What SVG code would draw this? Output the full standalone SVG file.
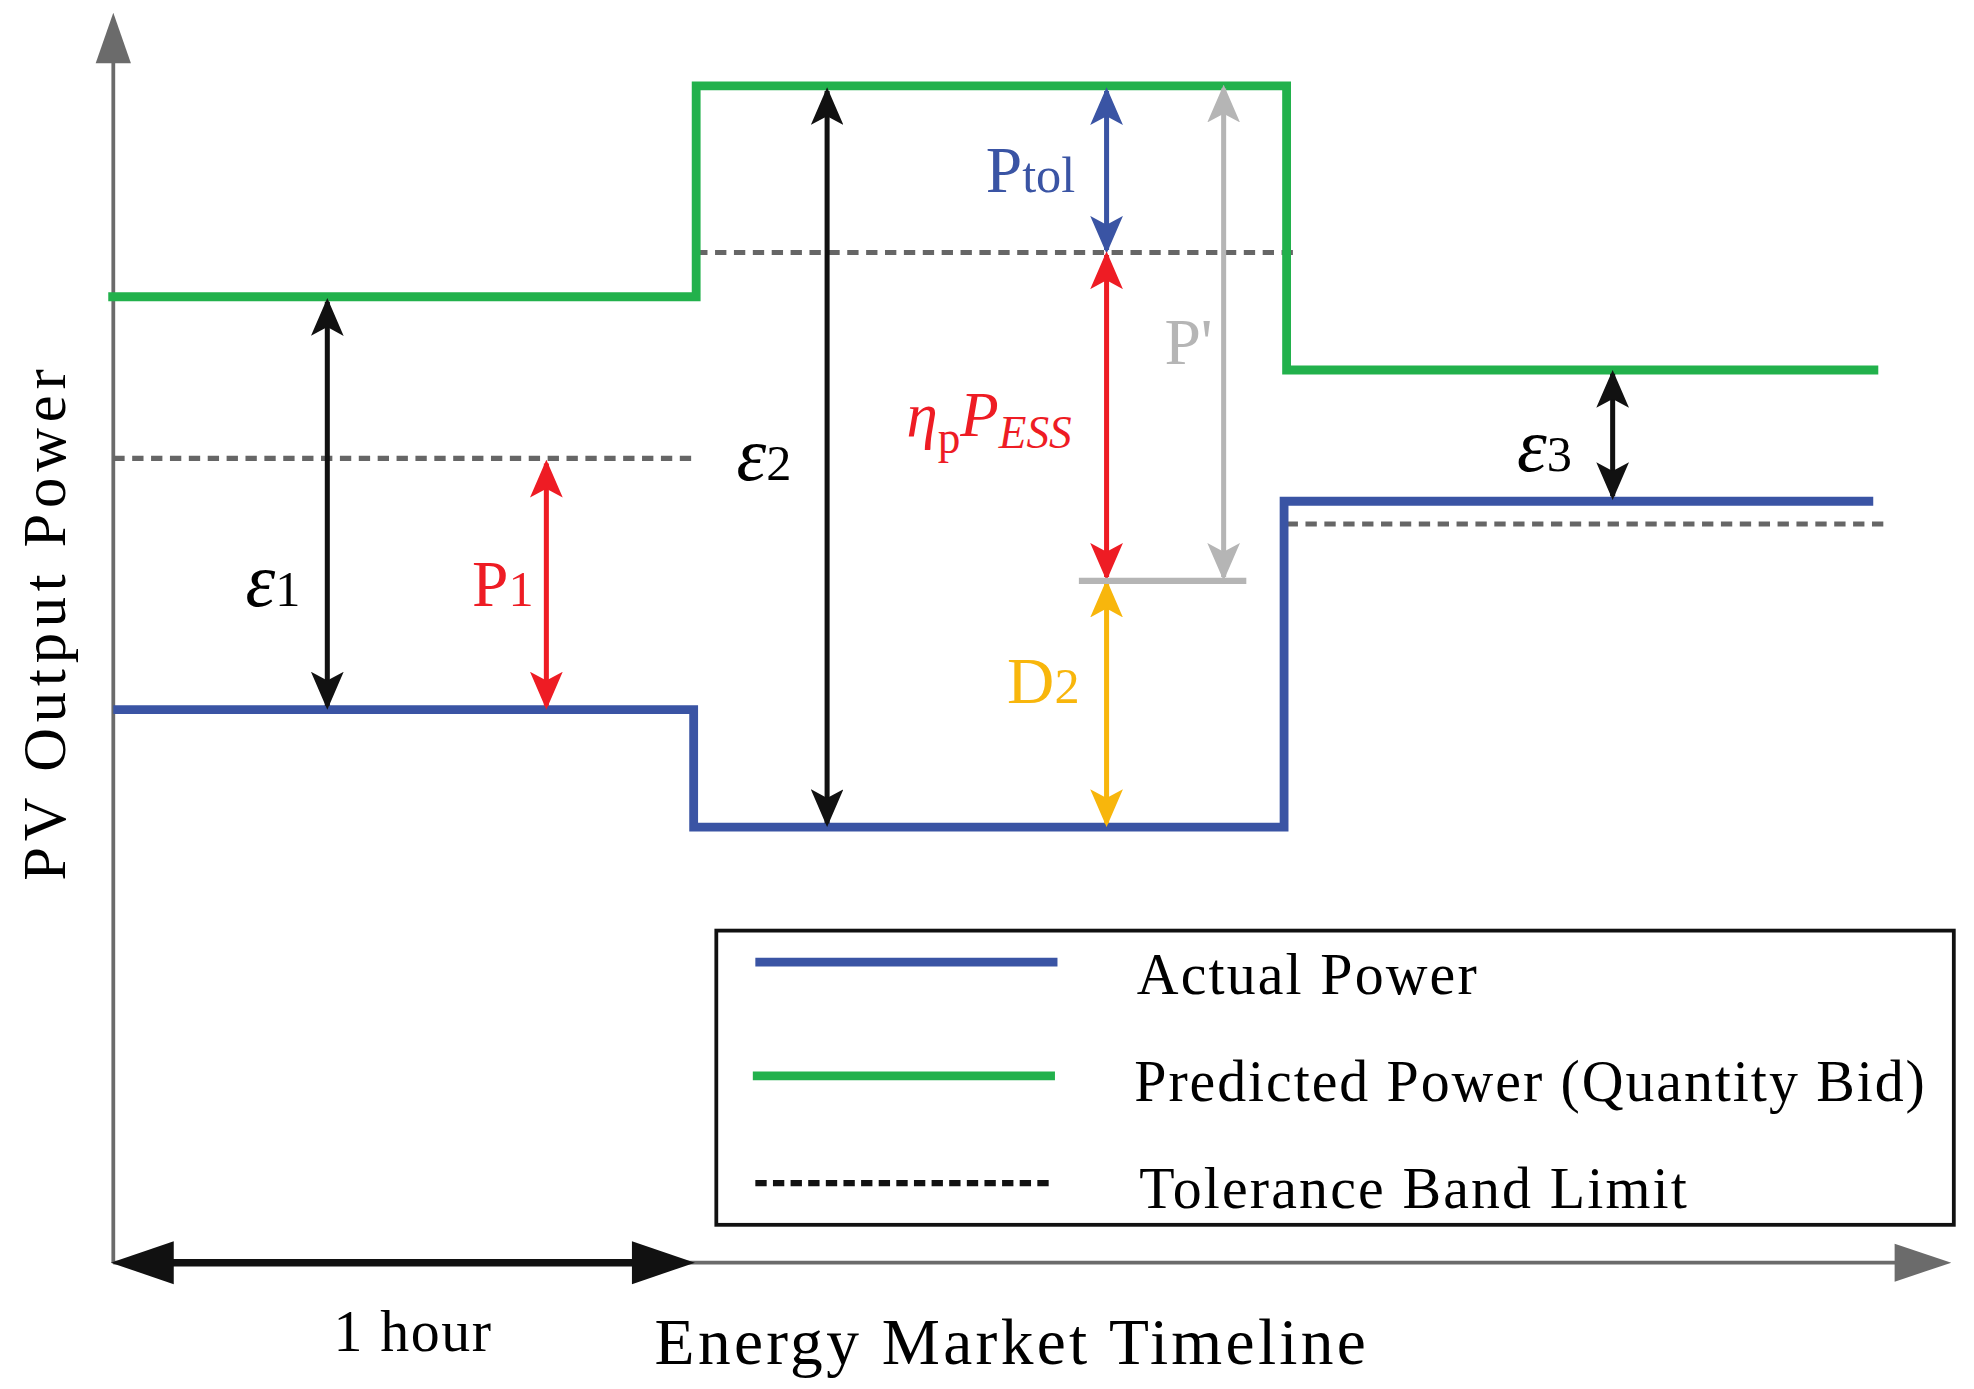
<svg xmlns="http://www.w3.org/2000/svg" width="1974" height="1389" viewBox="0 0 1974 1389">
<style>
.t{font-family:"Liberation Serif",serif}
.ax{stroke:#6b6b6b;stroke-width:3;fill:none}
.dash{stroke:#666;stroke-width:4;stroke-dasharray:9,6;fill:none}
.arr{stroke-width:4;fill:none}
</style>
<defs>
<marker id="mk" viewBox="0 0 30 26" refX="27" refY="13" markerWidth="30" markerHeight="26" markerUnits="userSpaceOnUse" orient="auto-start-reverse"><path d="M0,0 L30,13 L0,26 L7,13 Z" fill="#111"/></marker>
<marker id="mr" viewBox="0 0 30 26" refX="27" refY="13" markerWidth="30" markerHeight="26" markerUnits="userSpaceOnUse" orient="auto-start-reverse"><path d="M0,0 L30,13 L0,26 L7,13 Z" fill="#ee1c24"/></marker>
<marker id="mb" viewBox="0 0 30 26" refX="27" refY="13" markerWidth="30" markerHeight="26" markerUnits="userSpaceOnUse" orient="auto-start-reverse"><path d="M0,0 L30,13 L0,26 L7,13 Z" fill="#3a54a4"/></marker>
<marker id="my" viewBox="0 0 30 26" refX="27" refY="13" markerWidth="30" markerHeight="26" markerUnits="userSpaceOnUse" orient="auto-start-reverse"><path d="M0,0 L30,13 L0,26 L7,13 Z" fill="#f8b60c"/></marker>
<marker id="mg" viewBox="0 0 30 26" refX="27" refY="13" markerWidth="30" markerHeight="26" markerUnits="userSpaceOnUse" orient="auto-start-reverse"><path d="M0,0 L30,13 L0,26 L7,13 Z" fill="#b5b5b5"/></marker>
</defs>
<rect width="1974" height="1389" fill="#fff"/>
<g transform="scale(1.2589 1.2627)">
<g id="axes">
<line class="ax" x1="90" y1="1000" x2="90" y2="40"/>
<path d="M90,10 L104,50 L76,50 Z" fill="#6b6b6b"/>
<line class="ax" x1="90" y1="1000" x2="1515" y2="1000"/>
<path d="M1550,1000 L1505,985 L1505,1015 Z" fill="#6b6b6b"/>
<line x1="130" y1="1000" x2="510" y2="1000" stroke="#111" stroke-width="6"/>
<path d="M88,1000 L138,983 L138,1017 Z" fill="#111"/>
<path d="M552,1000 L502,983 L502,1017 Z" fill="#111"/>
<text class="t" x="265" y="1070" font-size="46" textLength="125">1 hour</text>
<text class="t" x="520" y="1080" font-size="52" textLength="565">Energy Market Timeline</text>
<text class="t" font-size="48" transform="translate(52,495) rotate(-90)" text-anchor="middle" textLength="405">PV Output Power</text>
</g>
<g id="tolerance">
<path class="dash" d="M90,363 H550"/>
<path class="dash" d="M553,200 H1027"/>
<path class="dash" d="M1022,415 H1497"/>
</g>
<g id="predicted"><path d="M86,235 H553 V68 H1022 V293 H1492" stroke="#22b14c" stroke-width="7" fill="none"/></g>
<g id="actual"><path d="M90,562 H551 V655 H1020 V397 H1488" stroke="#3a54a4" stroke-width="7" fill="none"/></g>
<g id="connectors">
<line class="arr" stroke="#111" x1="260" y1="239" x2="260" y2="559" marker-start="url(#mk)" marker-end="url(#mk)"/>
<line class="arr" stroke="#ee1c24" x1="434" y1="367" x2="434" y2="559" marker-start="url(#mr)" marker-end="url(#mr)"/>
<line class="arr" stroke="#111" x1="657" y1="72" x2="657" y2="652" marker-start="url(#mk)" marker-end="url(#mk)"/>
<line class="arr" stroke="#3a54a4" x1="879" y1="72" x2="879" y2="198" marker-start="url(#mb)" marker-end="url(#mb)"/>
<line class="arr" stroke="#ee1c24" x1="879" y1="202" x2="879" y2="457" marker-start="url(#mr)" marker-end="url(#mr)"/>
<line class="arr" stroke="#f8b60c" x1="879" y1="462" x2="879" y2="652" marker-start="url(#my)" marker-end="url(#my)"/>
<line class="arr" stroke="#b5b5b5" x1="972" y1="70" x2="972" y2="457" marker-start="url(#mg)" marker-end="url(#mg)"/>
<line stroke="#b5b5b5" stroke-width="5" x1="857" y1="460" x2="990" y2="460"/>
<line class="arr" stroke="#111" x1="1281" y1="296" x2="1281" y2="393" marker-start="url(#mk)" marker-end="url(#mk)"/>
</g>
<g id="labels">
<text class="t" x="195" y="480" font-size="60" font-style="italic">ε<tspan font-size="40" font-style="normal">1</tspan></text>
<text class="t" x="375" y="480" font-size="52" fill="#ee1c24">P<tspan font-size="40">1</tspan></text>
<text class="t" x="585" y="380" font-size="60" font-style="italic">ε<tspan font-size="40" font-style="normal">2</tspan></text>
<text class="t" x="1205" y="373" font-size="60" font-style="italic">ε<tspan font-size="40" font-style="normal">3</tspan></text>
<text class="t" x="783" y="152" font-size="52" fill="#3a54a4">P<tspan font-size="40">tol</tspan></text>
<text class="t" x="720" y="345" font-size="50" fill="#ee1c24" font-style="italic">η<tspan font-size="36" font-style="normal" dy="14">p</tspan><tspan dy="-14">P</tspan><tspan font-size="36" dy="10">ESS</tspan></text>
<text class="t" x="800" y="557" font-size="52" fill="#f8b60c">D<tspan font-size="40">2</tspan></text>
<text class="t" x="925" y="288" font-size="52" fill="#b5b5b5">P'</text>
</g>
<g id="legend">
<rect x="569" y="737" width="983" height="233" fill="none" stroke="#111" stroke-width="3"/>
<line x1="600" y1="762" x2="840" y2="762" stroke="#3a54a4" stroke-width="7"/>
<line x1="598" y1="852" x2="838" y2="852" stroke="#22b14c" stroke-width="7"/>
<line x1="600" y1="937" x2="836" y2="937" stroke="#111" stroke-width="5" stroke-dasharray="9,5"/>
<text class="t" x="903" y="787" font-size="46" textLength="270">Actual Power</text>
<text class="t" x="901" y="872" font-size="46" textLength="628">Predicted Power (Quantity Bid)</text>
<text class="t" x="905" y="957" font-size="46" textLength="435">Tolerance Band Limit</text>
</g>
</g>
</svg>
